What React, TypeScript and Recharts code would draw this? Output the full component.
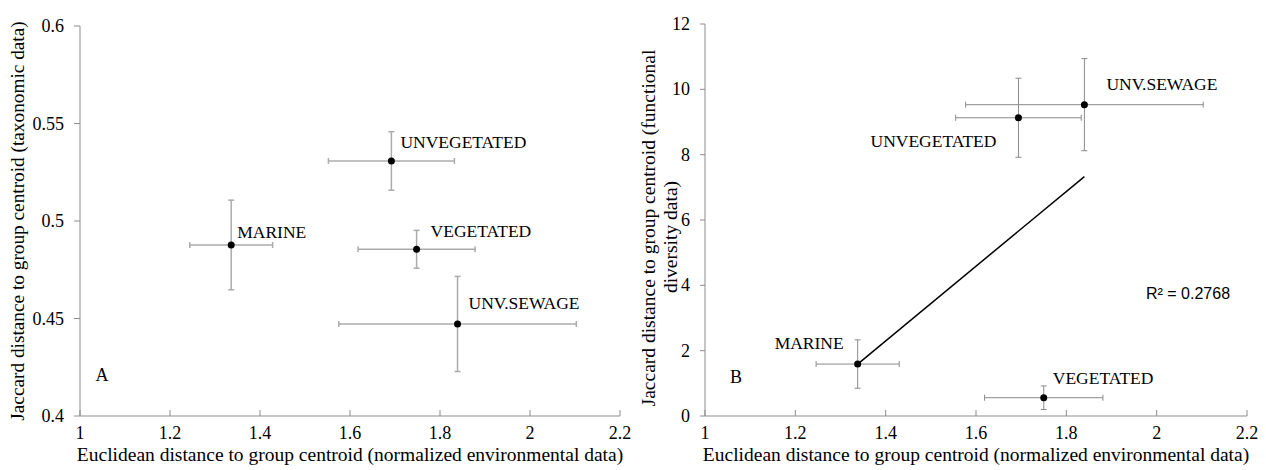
import React from 'react';
import { ScatterChart, Scatter, XAxis, YAxis, ErrorBar, Customized } from 'recharts';

// groups and centroid distances
const groups = ['UNVEGETATED', 'MARINE', 'VEGETATED', 'UNV.SEWAGE'];

const envX = [1.692, 1.336, 1.748, 1.839];
const envXErr = [0.14, 0.092, 0.13, 0.264];

const taxY = [0.5308, 0.4877, 0.4855, 0.4472];
const taxYErr = [0.015, 0.023, 0.0097, 0.0244];

const funX = [1.694, 1.338, 1.75, 1.84];
const funXErr = [0.139, 0.092, 0.131, 0.263];
const funY = [9.13, 1.59, 0.56, 9.53];
const funYErr = [1.21, 0.74, 0.36, 1.41];

// linear trend drawn in panel B
const trendX = [1.338, 1.84];
const trendY = [1.59, 7.33];

const xTicks = [1, 1.2, 1.4, 1.6, 1.8, 2, 2.2];
const taxTicks = [0.4, 0.45, 0.5, 0.55, 0.6];
const funTicks = [0, 2, 4, 6, 8, 10, 12];

const X_TITLE = 'Euclidean distance to group centroid (normalized environmental data)';

const SERIF = '"Liberation Serif", "Times New Roman", serif';

const taxData = groups.map((name, i) => ({ name, x: envX[i], y: taxY[i], xErr: envXErr[i], yErr: taxYErr[i] }));
const funData = groups.map((name, i) => ({ name, x: funX[i], y: funY[i], xErr: funXErr[i], yErr: funYErr[i] }));
const trendData = trendX.map((x, i) => ({ x, y: trendY[i] }));

type LabelPos = { dx: number; dy: number; anchor: 'start' | 'end' };

const labelPosA: Record<string, LabelPos> = {
  UNVEGETATED: { dx: 9, dy: -19, anchor: 'start' },
  MARINE: { dx: 6, dy: -13, anchor: 'start' },
  VEGETATED: { dx: 14, dy: -18, anchor: 'start' },
  'UNV.SEWAGE': { dx: 11, dy: -21, anchor: 'start' },
};

const labelPosB: Record<string, LabelPos> = {
  UNVEGETATED: { dx: -22, dy: 23, anchor: 'end' },
  MARINE: { dx: -14, dy: -21, anchor: 'end' },
  VEGETATED: { dx: 9, dy: -20, anchor: 'start' },
  'UNV.SEWAGE': { dx: 22, dy: -21, anchor: 'start' },
};

const makeDot = (pos: Record<string, LabelPos>) => (props: any) => {
  const { cx, cy, payload } = props;
  const p = pos[payload.name];
  return (
    <g>
      <circle cx={cx} cy={cy} r={3.5} fill="#000" />
      <text
        x={cx + p.dx}
        y={cy + p.dy}
        textAnchor={p.anchor}
        dominantBaseline="central"
        fontFamily={SERIF}
        fontSize={17.5}
        fill="#000"
      >
        {payload.name}
      </text>
    </g>
  );
};

const NoDot = () => <g />;

const BottomTick = (props: any) => (
  <text x={props.x} y={props.y} dy="0.71em" textAnchor="middle" fontFamily={SERIF} fontSize={18} fill="#000">
    {props.payload.value}
  </text>
);

const LeftTick = (props: any) => (
  <text x={props.x} y={props.y} textAnchor="end" dominantBaseline="central" fontFamily={SERIF} fontSize={18} fill="#000">
    {props.payload.value}
  </text>
);

const xTitle = (props: any) => {
  const { x, y, width } = props.viewBox;
  return (
    <text x={x + width / 2} y={y + 38} textAnchor="middle" dominantBaseline="central" fontFamily={SERIF} fontSize={19.5} fill="#000">
      {X_TITLE}
    </text>
  );
};

const yTitleA = (props: any) => {
  const { y, height } = props.viewBox;
  const cy = y + height / 2;
  return (
    <text x={17} y={cy} transform={`rotate(-90, 17, ${cy})`} textAnchor="middle" dominantBaseline="central" fontFamily={SERIF} fontSize={19.3} fill="#000">
      Jaccard distance to group centroid (taxonomic data)
    </text>
  );
};

const yTitleB = () => (
  <g fontFamily={SERIF} fontSize={19.5} fill="#000">
    <text x={15} y={228} transform="rotate(-90, 15, 228)" textAnchor="middle" dominantBaseline="central">
      Jaccard distance to group centroid (functional
    </text>
    <text x={37} y={237} transform="rotate(-90, 37, 237)" textAnchor="middle" dominantBaseline="central">
      diversity data)
    </text>
  </g>
);

const App = () => (
  <div style={{ position: 'absolute', left: 0, top: 0, width: 1266, height: 470, background: '#fff', fontFamily: SERIF }}>
    <div style={{ position: 'absolute', left: 0, top: 0 }}>
      <ScatterChart width={633} height={470} margin={{ top: 26, right: 13, bottom: 0, left: 0 }}>
        <XAxis
          type="number"
          dataKey="x"
          domain={[1, 2.2]}
          ticks={xTicks}
          height={54}
          stroke="#8c8c8c"
          tickSize={-6}
          tickMargin={16}
          tick={BottomTick}
          label={xTitle}
        />
        <YAxis
          type="number"
          dataKey="y"
          domain={[0.4, 0.6]}
          ticks={taxTicks}
          width={80}
          stroke="#8c8c8c"
          tickSize={6}
          tickMargin={10}
          tick={LeftTick}
          label={yTitleA}
        />
        <Scatter data={taxData} shape={makeDot(labelPosA)} isAnimationActive={false}>
          <ErrorBar dataKey="xErr" direction="x" width={3} stroke="#ababab" strokeWidth={1.5} />
          <ErrorBar dataKey="yErr" direction="y" width={3} stroke="#ababab" strokeWidth={1.5} />
        </Scatter>
        <Customized
          component={() => (
            <text x={102} y={375} textAnchor="middle" dominantBaseline="central" fontFamily={SERIF} fontSize={18} fill="#000">
              A
            </text>
          )}
        />
      </ScatterChart>
    </div>
    <div style={{ position: 'absolute', left: 633, top: 0 }}>
      <ScatterChart width={633} height={470} margin={{ top: 24, right: 19, bottom: 0, left: 0 }}>
        <XAxis
          type="number"
          dataKey="x"
          domain={[1, 2.2]}
          ticks={xTicks}
          height={54}
          stroke="#8c8c8c"
          tickSize={-6}
          tickMargin={16}
          tick={BottomTick}
          label={xTitle}
        />
        <YAxis
          type="number"
          dataKey="y"
          domain={[0, 12]}
          ticks={funTicks}
          width={72}
          stroke="#8c8c8c"
          tickSize={5}
          tickMargin={10}
          tick={LeftTick}
          label={yTitleB}
        />
        <Scatter data={trendData} shape={NoDot} line={{ stroke: '#000', strokeWidth: 1.5 }} isAnimationActive={false} />
        <Scatter data={funData} shape={makeDot(labelPosB)} isAnimationActive={false}>
          <ErrorBar dataKey="xErr" direction="x" width={3} stroke="#8a8a8a" strokeWidth={1} />
          <ErrorBar dataKey="yErr" direction="y" width={3} stroke="#8a8a8a" strokeWidth={1} />
        </Scatter>
        <Customized
          component={() => (
            <g>
              <text x={103} y={377} textAnchor="middle" dominantBaseline="central" fontFamily={SERIF} fontSize={18} fill="#000">
                B
              </text>
              <text
                x={555}
                y={293}
                textAnchor="middle"
                dominantBaseline="central"
                fontSize={16}
                fontFamily='"Liberation Sans", Arial, sans-serif'
                fill="#000"
              >
                R² = 0.2768
              </text>
            </g>
          )}
        />
      </ScatterChart>
    </div>
  </div>
);

export default App;
